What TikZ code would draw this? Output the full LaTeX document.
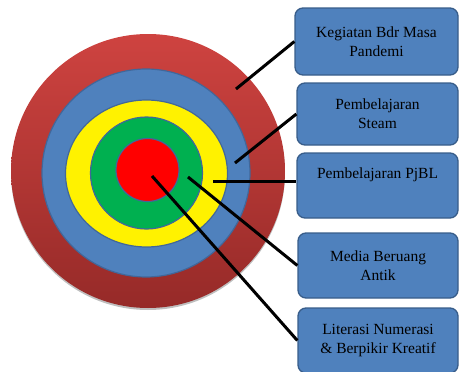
\documentclass[tikz,border=0pt]{standalone}
\usepackage{fontspec}
\setmainfont{Liberation Serif}
\usepackage{tikz}
\usetikzlibrary{shapes.geometric}
\definecolor{ringtop}{HTML}{CE4340}
\definecolor{ringbottom}{HTML}{962A28}
\definecolor{ringblue}{HTML}{4F81BD}
\definecolor{ringedge}{HTML}{41679A}
\definecolor{ringgreen}{HTML}{00B050}
\definecolor{boxedge}{HTML}{385D8A}
\tikzstyle{ring}=[draw=ringedge, line width=1.2pt, inner sep=0pt]
\tikzstyle{label box}=[draw=boxedge, fill=ringblue, rounded corners=8pt, line width=1.3pt, minimum width=161pt, minimum height=64pt, align=center, font=\fontsize{15.5}{19}\selectfont]
\tikzstyle{link}=[line width=3pt]

\begin{document}
\begin{tikzpicture}[x=1pt,y=-1pt]
\useasboundingbox (0,0) rectangle (459,372);
% target
\node[circle, minimum size=274pt, inner sep=0pt, fill=black!25] at (148,173) {};
\node (outer) [circle, minimum size=274pt, inner sep=0pt, top color=ringtop, bottom color=ringbottom] at (148,171) {};
\node (steam) [ring, circle, fill=ringblue, minimum size=208pt] at (146,173) {};
\node (pjbl) [ring, ellipse, fill=yellow, minimum width=162pt, minimum height=147pt] at (146.5,173.5) {};
\node (media) [ring, circle, fill=ringgreen, minimum size=112pt] at (146.5,173) {};
\node (core) [ring, circle, fill=red, minimum size=63pt] at (147.5,170) {};
\coordinate (p1) at (236,89);
\coordinate (p2) at (235,163);
\coordinate (p3) at (213,181);
\coordinate (p4) at (188,177);
\coordinate (p5) at (152,176);
% labels
\node (b1) [label box, minimum width=163pt, minimum height=67pt] at (376.5,41.5) {Kegiatan Bdr Masa\\Pandemi};
\node (b2) [label box, minimum height=62pt] at (377.5,114) {Pembelajaran\\Steam};
\node (b3) [label box, minimum height=65pt] at (377.5,185.5) {Pembelajaran PjBL\\\strut};
\node (b4) [label box, minimum width=160pt, minimum height=65pt] at (378,265.5) {Media Beruang\\Antik};
\node (b5) [label box, minimum width=160pt, minimum height=65pt] at (378,340.5) {Literasi Numerasi\\\& Berpikir Kreatif};
\draw[link] (p1) -- (b1.west);
\draw[link] (p2) -- (b2.west);
\draw[link] (p3) -- (p3 -| b3.west);
\draw[link] (p4) -- (b4.west);
\draw[link] (p5) -- (b5.west);
\end{tikzpicture}
\end{document}
